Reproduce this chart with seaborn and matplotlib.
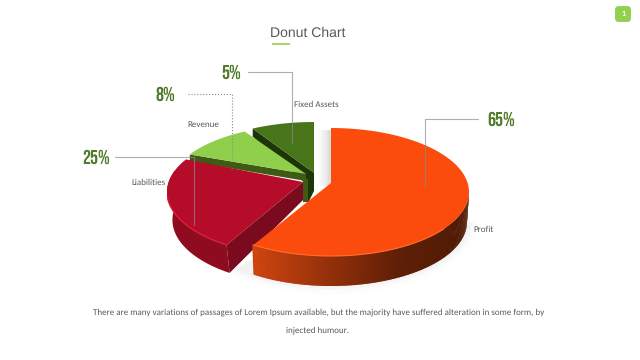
import numpy as np
import matplotlib
matplotlib.use("Agg")
import matplotlib.pyplot as plt
from matplotlib.colors import LinearSegmentedColormap
from matplotlib.patches import FancyBboxPatch
import seaborn as sns

categories = ["Profit", "Liabilities", "Revenue", "Fixed Assets"]
percent_labels = [65, 25, 8, 5]
drawn_share = [59.5, 24, 9, 7.5]   # slice sizes as they appear in the picture

sns.set_theme(style="white")
plt.rcParams["font.family"] = ["Carlito", "Lato", "DejaVu Sans"]
plt.rcParams["text.hinting"] = "none"
plt.rcParams["text.hinting_factor"] = 1

fig = plt.figure(figsize=(6.4, 3.6), dpi=100, facecolor="white")
ax = fig.add_axes([0, 0, 1, 1])
ax.set_xlim(0, 640)
ax.set_ylim(360, 0)
ax.axis("off")

edges = np.concatenate([[0], np.cumsum(drawn_share)]) / sum(drawn_share) * 360


def arc(cx, cy, rx, ry, a0, a1, n=120):
    t = np.radians(np.linspace(a0, a1, n))
    return cx + rx * np.sin(t), cy - ry * np.cos(t)


# soft shadows
for grow, a in [(8, .012), (5, .015), (3, .02), (1, .025)]:
    x, y = arc(331, 222, 138 + grow, 64 + grow, 90, 225)
    ax.fill(np.r_[x, 331], np.r_[y, 222], color="#555555", alpha=a, lw=0, zorder=0.5)
for i, a in enumerate([.02, .03, .04, .05, .06]):
    ax.fill_between([318 + i * 2.6, 331], 130, 186, color="#555555", alpha=a, lw=0, zorder=0.5)

# --- Fixed Assets (back)
a0, a1 = edges[3], edges[4]
cx, cy, rx, ry, corner = 314, 182, 135, 60, 173
x, y = arc(cx, cy, rx, ry, a0, a1)
ax.fill([x[0], cx, cx, x[0]], [y[0], corner, corner + 18, y[0] + 8], color="#1d3607", lw=0, zorder=1)
ax.fill([cx - 6, cx, cx, cx - 6], [corner - 4, corner, corner + 18, corner + 30], color="#1d3607", lw=0, zorder=1)
ax.fill(np.r_[x, cx], np.r_[y, corner], color="#48741a", lw=0, zorder=2)

# --- Revenue
a0, a1 = edges[2], edges[3]
cx, cy, rx, ry, corner = 306, 185, 135, 60, 174
x, y = arc(cx, cy, rx, ry, a0, a1)
ax.fill([x[0], cx, cx, x[0]], [y[0], corner, corner + 7, y[0] + 7], color="#3f5a14", lw=0, zorder=3)
ax.fill([cx - 3, cx + 2, cx + 2, cx - 3], [corner + 5, corner + 5, corner + 28, corner + 28], color="#3f5a14", lw=0, zorder=3)
ax.fill(np.r_[x, cx], np.r_[y, corner], color="#8fcf4c", lw=0, zorder=4)

# --- Liabilities
a0, a1 = edges[1], edges[2]
cx, cy, rx, ry, corner, depth = 303, 192, 136, 64, 182, 28
x, y = arc(cx, cy, rx, ry, a0, a1)
bx, by = arc(cx, cy + depth, rx * .96, ry, a0, 290)
tx, ty = arc(cx, cy, rx, ry, a0, 290)
ax.fill(np.r_[tx, bx[::-1]], np.r_[ty, by[::-1]], color="#8f0c20", lw=0, zorder=5)
ax.fill([x[0], cx, cx, bx[0]], [y[0], corner, corner + 18, by[0]], color="#7a0a1e", lw=0, zorder=5)
ax.fill(np.r_[x, cx], np.r_[y, corner], color="#b50d29", lw=0, zorder=6)
rx_hi, ry_hi = arc(cx, cy, rx, ry, a0, 265)
ax.plot(rx_hi, ry_hi, color="#d8203c", lw=1, zorder=6)

# --- Profit
a0, a1 = edges[0], edges[1]
cx, cy, rx, ry, corner, depth = 331, 192, 138, 64, 183, 30
x, y = arc(cx, cy, rx, ry, a0, a1)
wall = LinearSegmentedColormap.from_list("wall", ["#cc4410", "#96300a", "#5f1f06", "#4f1a04"])
angles = np.linspace(88, a1, 130)
for p, q in zip(angles[:-1], angles[1:]):
    ux, uy = arc(cx, cy, rx, ry, p, q + .6, 4)
    dx, dy = arc(cx, cy + depth, rx * .985, ry, p, q + .6, 4)
    shade = (ux.mean() - 255) / (469 - 255)
    ax.fill(np.r_[ux, dx[::-1]], np.r_[uy, dy[::-1]], color=wall(np.clip(shade, 0, 1)), lw=0, zorder=7)
ax.fill(np.r_[x, cx], np.r_[y, corner], color="#fb4c0d", lw=0, zorder=8)
hx, hy = arc(cx, cy, rx, ry, 125, a1)
ax.plot(hx, hy, color="#ff6d2c", lw=.8, zorder=8)

# --- Leaders
leaders = [([478, 425, 425], [119, 119, 187], "-", .7),
           ([115, 194, 194], [157, 157, 225], "-", .7),
           ([188, 232, 232], [94, 94, 160], ":", 1),
           ([248, 292, 292], [72, 72, 143], "-", .7)]
for lx, ly, ls, al in leaders:
    ax.plot(lx, ly, color="#8c8c8c", lw=.8, ls=ls, alpha=al, zorder=9)

# --- Text
pct_font = ["Bebas Neue", "Oswald", "Roboto", "DejaVu Sans"]
pct_pos = [(501, 119), (96, 157), (165.5, 94), (231, 72)]
for val, (px, py) in zip(percent_labels, pct_pos):
    ax.text(px, py, f"{val}%", ha="center", va="center", fontsize=14.5,
            color="#4f7a28", family=pct_font, zorder=10)

cat_pos = [(483.5, 229.5), (148.5, 182.5), (203, 124.5), (316, 104.5)]
for name, (px, py) in zip(categories, cat_pos):
    ax.text(px, py, name, ha="center", va="center", fontsize=6.7, color="#595959", zorder=10)

ax.text(308, 33.5, "Donut Chart", ha="center", va="center", fontsize=9.9,
        color="#595959", family=["Liberation Sans", "DejaVu Sans"])
ax.plot([272, 290], [43.5, 43.5], color="#92d050", lw=1.2, solid_capstyle="butt")

ax.add_patch(FancyBboxPatch((617, 8), 12, 12, boxstyle="round,pad=2,rounding_size=4", fc="#92d050", ec="none"))
ax.text(623, 14, "1", ha="center", va="center", fontsize=5.5, fontweight="bold", color="white")

ax.text(318.5, 312.5, "There are many variations of passages of Lorem Ipsum available, but the majority have suffered alteration in some form, by",
        ha="center", va="center", fontsize=6.75, color="#595959")
ax.text(318, 330.5, "injected humour.", ha="center", va="center", fontsize=6.75, color="#595959")

fig.savefig("out.png", dpi=100)
